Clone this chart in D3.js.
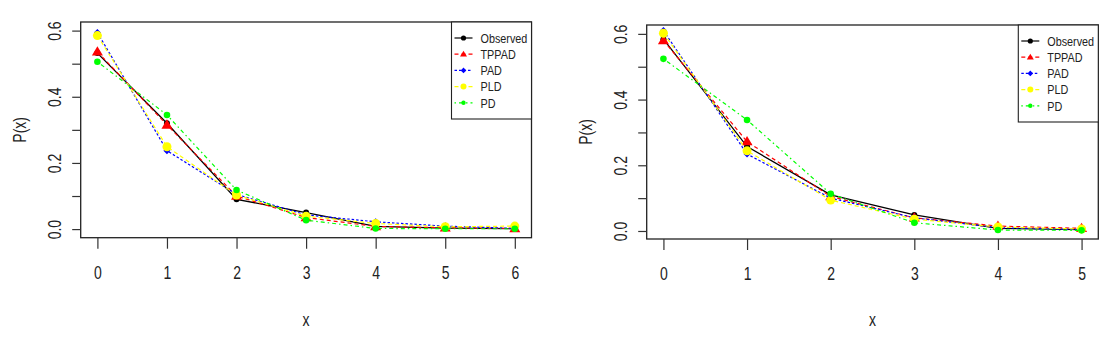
<!DOCTYPE html>
<html>
<head>
<meta charset="utf-8">
<script src="https://cdn.jsdelivr.net/npm/d3@7"></script>
<style>
  body { margin: 0; background: #fff; }
  svg text { font-family: "Liberation Sans", Arial, sans-serif; fill: #222; }
</style>
</head>
<body>
<svg id="chart" width="1116" height="343"></svg>
<script>
// values
const seriesNames = ["Observed", "TPPAD", "PAD", "PLD", "PD"];

const xLeft = [0, 1, 2, 3, 4, 5, 6];
const obsLeft = [0.532, 0.320, 0.090, 0.050, 0.008, 0.003, 0.001];
const tppadLeft = [0.536, 0.315, 0.100, 0.035, 0.008, 0.004, 0.002];
const padLeft = [0.594, 0.237, 0.105, 0.043, 0.022, 0.009, 0.002];
const pldLeft = [0.585, 0.249, 0.103, 0.039, 0.017, 0.007, 0.009];
const pdLeft = [0.506, 0.345, 0.118, 0.027, 0.002, 0.001, 0.001];

const xRight = [0, 1, 2, 3, 4, 5];
const obsRight = [0.584, 0.257, 0.110, 0.049, 0.008, 0.004];
const tppadRight = [0.580, 0.272, 0.105, 0.040, 0.015, 0.008];
const padRight = [0.610, 0.234, 0.100, 0.040, 0.010, 0.004];
const pldRight = [0.602, 0.244, 0.094, 0.036, 0.012, 0.006];
const pdRight = [0.524, 0.338, 0.113, 0.025, 0.003, 0.002];

const yTicks = [0, 0.1, 0.2, 0.3, 0.4, 0.5, 0.6];
const yTickLabels = ["0.0", "", "0.2", "", "0.4", "", "0.6"];

const styles = {
    Observed: { color: "#000", dash: null, shape: "circle", r: 3, lr: 2.6 },
    TPPAD: { color: "#ff0000", dash: "4,3", shape: "triangle", r: 5.5, lr: 3.5 },
    PAD: { color: "#0000ff", dash: "2.5,2", shape: "diamond", r: 3.5, lr: 2.8 },
    PLD: { color: "#ffff00", dash: "4,3", shape: "circle", r: 4.5, lr: 3 },
    PD: { color: "#00ff00", dash: "1.5,3,4,3", shape: "circle", r: 3.3, lr: 2.2 }
};

// the original lettering is a condensed face; squeeze it horizontally
const squeeze = 0.8;

const svg = d3.select("#chart");

function marker(g, shape, cx, cy, r, color) {
    if (shape === "circle") {
        g.append("circle").attr("cx", cx).attr("cy", cy).attr("r", r).attr("fill", color);
    } else if (shape === "triangle") {
        const h = r * 1.7;
        g.append("path")
            .attr("d", `M${cx},${cy - h * 0.6}L${cx + r},${cy + h * 0.4}L${cx - r},${cy + h * 0.4}Z`)
            .attr("fill", color);
    } else {
        g.append("path")
            .attr("d", `M${cx},${cy - r}L${cx + r},${cy}L${cx},${cy + r}L${cx - r},${cy}Z`)
            .attr("fill", color);
    }
}

function label(g, tx, ty, rot, txt, size, anchor) {
    return g.append("text")
        .attr("transform", `translate(${tx},${ty}) rotate(${rot}) scale(${squeeze},1)`)
        .attr("text-anchor", anchor || "middle")
        .attr("font-size", size)
        .text(txt);
}

function drawPanel(p) {
    const g = svg.append("g");
    const xPad = (d3.max(p.xs) - d3.min(p.xs)) * 0.04;

    const x = d3.scaleLinear()
        .domain([d3.min(p.xs) - xPad, d3.max(p.xs) + xPad])
        .range([p.left, p.right]);
    const y = d3.scaleLinear()
        .domain(p.yDomain)
        .range([p.bottom, p.top]);

    const line = d3.line()
        .x((d, i) => x(p.xs[i]))
        .y(d => y(d));

    p.series.forEach((vals, k) => {
        const st = styles[seriesNames[k]];
        g.append("path")
            .datum(vals)
            .attr("d", line)
            .attr("fill", "none")
            .attr("stroke", st.color)
            .attr("stroke-width", k === 0 ? 1.3 : 1.2)
            .attr("stroke-dasharray", st.dash);
        vals.forEach((v, i) => marker(g, st.shape, x(p.xs[i]), y(v), st.r, st.color));
    });

    // frame
    g.append("rect")
        .attr("x", p.left).attr("y", p.top)
        .attr("width", p.right - p.left).attr("height", p.bottom - p.top)
        .attr("fill", "none").attr("stroke", "#222").attr("stroke-width", 1.3);

    // x axis
    const xAxis = g.append("g")
        .attr("transform", `translate(0,${p.bottom})`)
        .call(d3.axisBottom(x).tickValues(p.xs).tickFormat(d3.format("d")).tickSize(11));
    xAxis.select(".domain").remove();
    xAxis.selectAll("line").attr("stroke", "#333").attr("stroke-width", 1.2);
    xAxis.selectAll("text").remove();
    xAxis.selectAll(".tick").each(function (d) {
        label(d3.select(this), 0, 41, 0, d3.format("d")(d), 17.5).attr("fill", "#222");
    });

    // y axis
    const yAxis = g.append("g")
        .attr("transform", `translate(${p.left},0)`)
        .call(d3.axisLeft(y).tickValues(yTicks).tickSize(8.5));
    yAxis.select(".domain").remove();
    yAxis.selectAll("line").attr("stroke", "#333").attr("stroke-width", 1.2);
    yAxis.selectAll("text").remove();
    yAxis.selectAll(".tick").each(function (d, i) {
        if (yTickLabels[i]) {
            label(d3.select(this), -19.5, 0, -90, yTickLabels[i], 17.5).attr("fill", "#222");
        }
    });

    // axis titles
    label(g, (p.left + p.right) / 2, 326, 0, "x", 17.5);
    label(g, p.left - 61, (p.top + p.bottom) / 2, -90, "P(x)", 17.5).attr("dy", "0.35em");

    // legend, anchored top-right of the frame
    const lw = 80, lh = 97;
    const lg = g.append("g").attr("transform", `translate(${p.right - lw},${p.top})`);
    lg.append("rect").attr("width", lw).attr("height", lh)
        .attr("fill", "#fff").attr("stroke", "#222").attr("stroke-width", 1.1);
    seriesNames.forEach((name, k) => {
        const st = styles[name];
        const ly = 16 + k * 16.2;
        lg.append("line")
            .attr("x1", 3).attr("x2", 21).attr("y1", ly).attr("y2", ly)
            .attr("stroke", st.color).attr("stroke-width", 1.2)
            .attr("stroke-dasharray", st.dash);
        marker(lg, st.shape, 12, ly, st.lr, st.color);
        label(lg, 29, ly, 0, name, 13.5, "start").attr("dy", "0.36em");
    });
}

drawPanel({
    xs: xLeft,
    series: [obsLeft, tppadLeft, padLeft, pldLeft, pdLeft],
    left: 80.7, right: 531.5, top: 22, bottom: 237.7,
    yDomain: [-0.026, 0.626]
});

drawPanel({
    xs: xRight,
    series: [obsRight, tppadRight, padRight, pldRight, pdRight],
    left: 646.7, right: 1098.3, top: 25, bottom: 239,
    yDomain: [-0.0244, 0.627]
});
</script>
</body>
</html>
